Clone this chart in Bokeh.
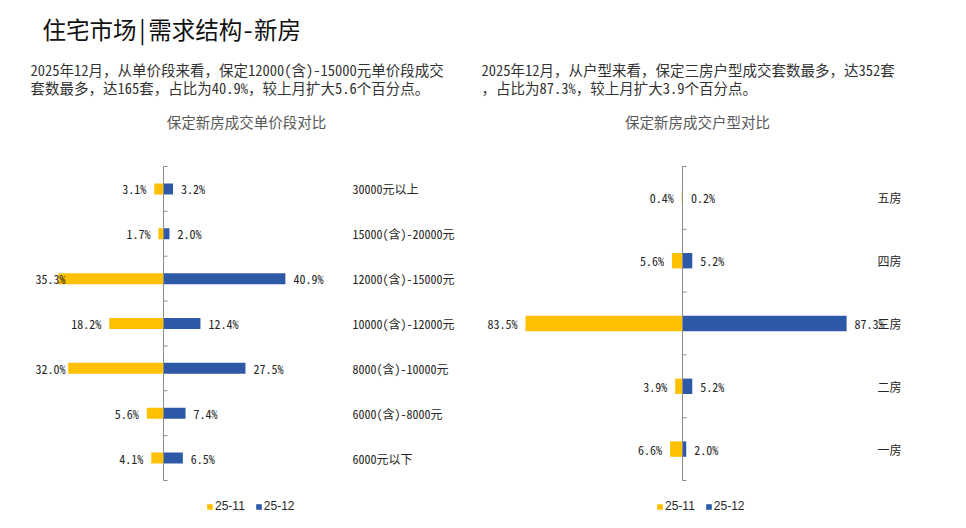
from bokeh.plotting import figure
from bokeh.models import Range1d, ColumnDataSource, Legend, LegendItem
from bokeh.layouts import row
from bokeh.core.properties import value
from bokeh.embed import file_html
from bokeh.resources import INLINE

# ---------------- data ----------------
price_cats = ["30000元以上", "15000(含)-20000元", "12000(含)-15000元", "10000(含)-12000元",
              "8000(含)-10000元", "6000(含)-8000元", "6000元以下"]
price_nov = [3.1, 1.7, 35.3, 18.2, 32.0, 5.6, 4.1]
price_dec = [3.2, 2.0, 40.9, 12.4, 27.5, 7.4, 6.5]

room_cats = ["五房", "四房", "三房", "二房", "一房"]
room_nov = [0.4, 5.6, 83.5, 3.9, 6.6]
room_dec = [0.2, 5.2, 87.3, 5.2, 2.0]

series_names = ["25-11", "25-12"]

main_title = "住宅市场|需求结构-新房"
left_para = ["2025年12月，从单价段来看，保定12000(含)-15000元单价段成交",
             "套数最多，达165套，占比为40.9%，较上月扩大5.6个百分点。"]
right_para = ["2025年12月，从户型来看，保定三房户型成交套数最多，达352套",
              "，占比为87.3%，较上月扩大3.9个百分点。"]
left_chart_title = "保定新房成交单价段对比"
right_chart_title = "保定新房成交户型对比"

# ---------------- style ----------------
H = 520
TOP, BOTTOM = 166, 480
BAR_H = 0.245
YELLOW = "#FFC000"
BLUE = "#2E59A7"
AXIS = "#8C8C8C"
MONO = "Noto Sans Mono CJK SC, Noto Sans CJK SC, sans-serif"
SANS = "Liberation Sans, Arial, sans-serif"


def build(W, cats, nov, dec, axis_px, ppu, cat_px, cat_align, clamp_px, legend_xy, texts):
    n = len(cats)
    rowh = (BOTTOM - TOP) / n
    p = figure(width=W, height=H,
               x_range=Range1d(-axis_px / ppu, (W - axis_px) / ppu),
               y_range=Range1d((H - TOP) / rowh, -TOP / rowh),
               output_backend="svg", toolbar_location=None, tools="",
               x_axis_location=None, y_axis_location=None,
               min_border=0, outline_line_color=None)
    p.xgrid.visible = False
    p.ygrid.visible = False
    p.background_fill_color = "white"
    p.border_fill_color = "white"
    p.extra_x_ranges = {"px": Range1d(0, W)}
    p.extra_y_ranges = {"px": Range1d(H, 0)}

    ys = [i + 0.5 for i in range(n)]
    src = ColumnDataSource(dict(
        y=ys, cat=cats, nov=nov, dec=dec, neg=[-v for v in nov],
        dec_lbl=[f"{v:.1f}%" for v in dec]))

    r_nov = p.hbar(y="y", left="neg", right=0, height=BAR_H, source=src,
                   fill_color=YELLOW, line_color=None)
    r_dec = p.hbar(y="y", left=0, right="dec", height=BAR_H, source=src,
                   fill_color=BLUE, line_color=None)

    # vertical axis at zero with ticks at category boundaries
    p.segment(x0=[0], y0=[0], x1=[0], y1=[n], line_color=AXIS, line_width=1)
    ticks = list(range(n + 1))
    p.segment(x0=[0] * len(ticks), y0=ticks, x1=[4 / ppu] * len(ticks), y1=ticks,
              line_color=AXIS, line_width=1)

    # value labels
    p.text(x="dec", y="y", text="dec_lbl", source=src, x_offset=8,
           text_align="left", text_baseline="middle", text_font=value(MONO),
           text_font_size="12px", text_color="#262626")
    norm = dict(x=[], y=[], t=[])
    clamp = dict(x=[], y=[], t=[])
    for v, y in zip(nov, ys):
        lbl = f"{v:.1f}%"
        right_edge = axis_px - v * ppu - 8
        if right_edge - 6 * len(lbl) < clamp_px:
            clamp["x"].append((clamp_px - axis_px) / ppu)
            clamp["y"].append(y)
            clamp["t"].append(lbl)
        else:
            norm["x"].append(-v)
            norm["y"].append(y)
            norm["t"].append(lbl)
    if norm["t"]:
        p.text(x=norm["x"], y=norm["y"], text=norm["t"], x_offset=-8,
               text_align="right", text_baseline="middle", text_font=value(MONO),
               text_font_size="12px", text_color="#262626")
    if clamp["t"]:
        p.text(x=clamp["x"], y=clamp["y"], text=clamp["t"],
               text_align="left", text_baseline="middle", text_font=value(MONO),
               text_font_size="12px", text_color="#262626")

    # category labels
    p.text(x=[(cat_px - axis_px) / ppu] * n, y=ys, text=cats,
           text_align=cat_align, text_baseline="middle", text_font=value(MONO),
           text_font_size="12px", text_color="#262626")

    # page texts
    for (tx, ty, t, size, color, align) in texts:
        p.text(x=[tx], y=[ty], text=[t], x_range_name="px", y_range_name="px",
               text_align=align, text_baseline="middle", text_font=value(MONO),
               text_font_size=size, text_color=color)

    legend = Legend(items=[LegendItem(label=series_names[0], renderers=[r_nov]),
                           LegendItem(label=series_names[1], renderers=[r_dec])],
                    location=legend_xy, orientation="horizontal",
                    border_line_alpha=0, background_fill_alpha=0,
                    padding=0, margin=0, spacing=10, label_standoff=2,
                    glyph_width=7, glyph_height=7, label_height=10,
                    label_text_font=SANS, label_text_font_size="12px",
                    label_text_color="#262626")
    p.add_layout(legend)
    return p


left_texts = [
    (42, 28, main_title, "23.5px", "#111111", "left"),
    (30, 69, left_para[0], "14.5px", "#333333", "left"),
    (30, 87, left_para[1], "14.5px", "#333333", "left"),
    (246, 121, left_chart_title, "14.5px", "#595959", "center"),
]
right_texts = [
    (3, 69, right_para[0], "14.5px", "#333333", "left"),
    (3, 87, right_para[1], "14.5px", "#333333", "left"),
    (219, 121, right_chart_title, "14.5px", "#595959", "center"),
]

p1 = build(478, price_cats, price_nov, price_dec, axis_px=163, ppu=2.98,
           cat_px=352, cat_align="left", clamp_px=35, legend_xy=(206, 7),
           texts=left_texts)
p2 = build(480, room_cats, room_nov, room_dec, axis_px=204, ppu=1.88,
           cat_px=423, cat_align="right", clamp_px=0, legend_xy=(178, 7),
           texts=right_texts)

layout = row(p1, p2)
open("out.html", "w").write(file_html(layout, INLINE))
